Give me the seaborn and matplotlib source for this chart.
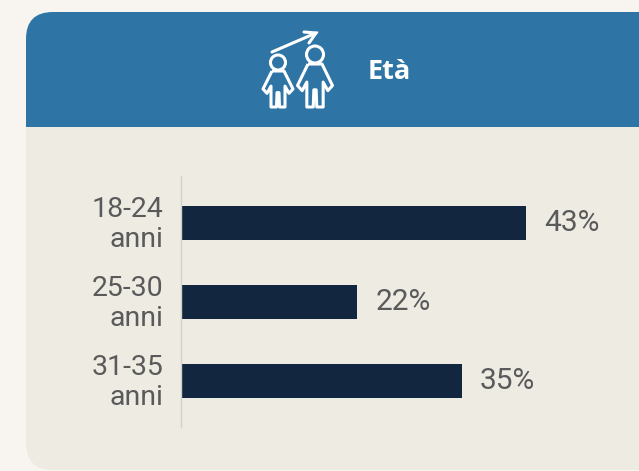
import matplotlib
matplotlib.use("Agg")
import matplotlib.pyplot as plt
import matplotlib.transforms as mtrans
import seaborn as sns
import pandas as pd
from matplotlib.patches import FancyBboxPatch, Rectangle, Circle, PathPatch
from matplotlib.path import Path

categories = ["18-24\nanni", "25-30\nanni", "31-35\nanni"]
values = [43, 22, 35]
title = "Età"

W, H = 639, 471
BG, CARD, BLUE, NAVY, GREY = "#F8F5F0", "#EEEBE3", "#2E75A6", "#12263F", "#5A5A5A"

sns.set_theme(style="white")
plt.rcParams["font.family"] = ["Roboto", "DejaVu Sans"]

fig = plt.figure(figsize=(W / 100, H / 100), dpi=100, facecolor=BG)

# backdrop in pixel coordinates
bg = fig.add_axes([0, 0, 1, 1], zorder=0)
bg.set_xlim(0, W); bg.set_ylim(H, 0); bg.axis("off")
R = 27
bg.add_patch(FancyBboxPatch((26, 12), 640, 458, boxstyle=f"round,pad=0,rounding_size={R}",
                            fc=CARD, ec="none"))
bg.add_patch(FancyBboxPatch((26, 12), 640, 200, boxstyle=f"round,pad=0,rounding_size={R}",
                            fc=BLUE, ec="none"))
bg.add_patch(Rectangle((26, 127), 640, 100, fc=CARD, ec="none"))

# icon
def person(cx, head_top, r, hw, bottom):
    bg.add_patch(Circle((cx, head_top + r), r, fc="none", ec="white", lw=2.2))
    t = head_top + 2 * r + 1
    h = bottom - t
    sx = hw / 15
    v = [(cx - 6*sx, t), (cx + 6*sx, t), (cx + 15*sx, t + .5*h), (cx + 11*sx, t + .62*h),
         (cx + 7*sx, t + .42*h), (cx + 7*sx, bottom), (cx + 1.5*sx, bottom), (cx + 1*sx, t + .6*h),
         (cx - 1*sx, t + .6*h), (cx - 1.5*sx, bottom), (cx - 7*sx, bottom), (cx - 7*sx, t + .42*h),
         (cx - 11*sx, t + .62*h), (cx - 15*sx, t + .5*h), (cx - 6*sx, t)]
    bg.add_patch(PathPatch(Path(v), fc="none", ec="white", lw=2.2, joinstyle="round"))

person(278, 55, 7.5, 15, 107)
person(315, 46, 8.5, 17.5, 107)
bg.plot([272, 316], [52, 33], color="white", lw=2.2, solid_capstyle="round")
bg.plot([304, 316, 309], [32, 33, 43], color="white", lw=2.2,
        solid_capstyle="round", solid_joinstyle="miter")
bg.text(389, 72, title, color="white", fontsize=19.5, fontweight="bold",
        ha="center", va="center", family=["Open Sans", "DejaVu Sans"])

# chart
x0, top, bottom = 181, 176, 427
ax = fig.add_axes([x0 / W, 1 - bottom / H, (W - x0) / W, (bottom - top) / H], zorder=1)
ax.patch.set_alpha(0)
df = pd.DataFrame({"cat": categories, "val": values})
sns.barplot(data=df, y="cat", x="val", color=NAVY, saturation=1, width=0.43,
            edgecolor="none", linewidth=0, ax=ax)
ax.set_xlim(0, 57.1)
ax.set_ylim(2.582, -0.595)
ax.set_xlabel(""); ax.set_ylabel("")
ax.set_xticks([])
ax.tick_params(axis="y", length=0, pad=12.5, labelsize=20.5, labelcolor=GREY)
up = mtrans.ScaledTranslation(0, 3 / 100, fig.dpi_scale_trans)
for l in ax.get_yticklabels():
    l.set_linespacing(1.12)
    l.set_transform(l.get_transform() + up)
for s in ["top", "right", "bottom"]:
    ax.spines[s].set_visible(False)
ax.spines["left"].set_color("#D3D1CC")
ax.spines["left"].set_linewidth(1)
for c in ax.containers:
    ax.bar_label(c, labels=[f"{v}%" for v in values], padding=13, fontsize=21.5, color=GREY)

fig.savefig("out.png", dpi=100, facecolor=BG)
